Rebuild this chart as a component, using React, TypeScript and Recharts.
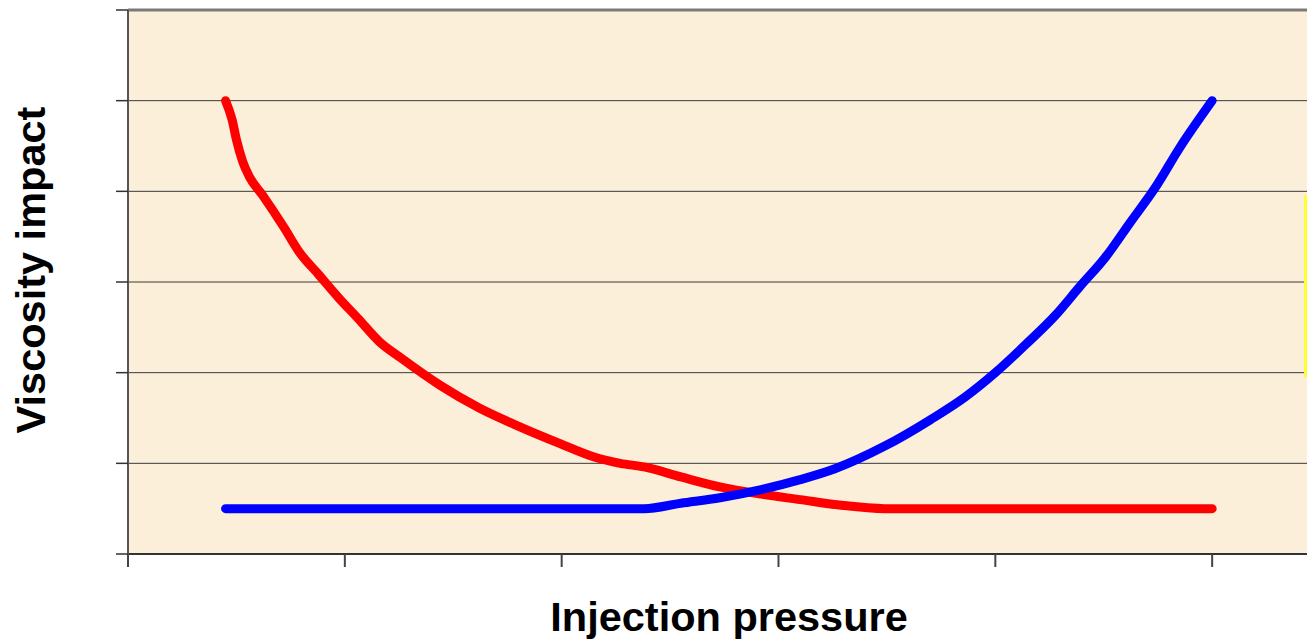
import React from "react";
import {
  LineChart,
  Line,
  XAxis,
  YAxis,
  CartesianGrid,
  ReferenceLine,
} from "recharts";

// x = injection pressure, y = viscosity impact (arbitrary units)
const redCurve = [
  { x: 0.45, y: 5.0 },
  { x: 0.48, y: 4.79 },
  { x: 0.5, y: 4.57 },
  { x: 0.53, y: 4.32 },
  { x: 0.56, y: 4.16 },
  { x: 0.62, y: 3.96 },
  { x: 0.72, y: 3.6 },
  { x: 0.79, y: 3.33 },
  { x: 0.88, y: 3.08 },
  { x: 0.97, y: 2.83 },
  { x: 1.06, y: 2.6 },
  { x: 1.16, y: 2.34 },
  { x: 1.26, y: 2.16 },
  { x: 1.44, y: 1.86 },
  { x: 1.62, y: 1.61 },
  { x: 1.81, y: 1.4 },
  { x: 1.99, y: 1.22 },
  { x: 2.15, y: 1.07 },
  { x: 2.27, y: 1.0 },
  { x: 2.38, y: 0.96 },
  { x: 2.55, y: 0.85 },
  { x: 2.73, y: 0.74 },
  { x: 2.92, y: 0.66 },
  { x: 3.1, y: 0.6 },
  { x: 3.28, y: 0.54 },
  { x: 3.49, y: 0.5 },
  { x: 5.0, y: 0.5 },
];

const blueCurve = [
  { x: 0.45, y: 0.5 },
  { x: 2.38, y: 0.5 },
  { x: 2.55, y: 0.56 },
  { x: 2.73, y: 0.62 },
  { x: 2.92, y: 0.71 },
  { x: 3.1, y: 0.82 },
  { x: 3.26, y: 0.94 },
  { x: 3.49, y: 1.19 },
  { x: 3.7, y: 1.48 },
  { x: 3.86, y: 1.73 },
  { x: 4.0, y: 2.0 },
  { x: 4.14, y: 2.31 },
  { x: 4.28, y: 2.64 },
  { x: 4.39, y: 2.95 },
  { x: 4.51, y: 3.28 },
  { x: 4.62, y: 3.65 },
  { x: 4.74, y: 4.05 },
  { x: 4.85, y: 4.48 },
  { x: 5.0, y: 5.0 },
];

const xTicks = [0, 1, 2, 3, 4, 5, 6];
const yTicks = [0, 1, 2, 3, 4, 5, 6];

const FONT = "'Liberation Sans', Arial, sans-serif";

const noLabel = () => <g />;

export default function App() {
  return (
    <div
      style={{
        position: "fixed",
        left: 0,
        top: 0,
        width: 1307,
        height: 639,
        overflow: "hidden",
        background: "#fff",
        fontFamily: FONT,
      }}
    >
      <LineChart
        width={1440}
        height={639}
        margin={{ top: 10, right: 11, left: 100, bottom: 0 }}
      >
        <CartesianGrid
          horizontal
          vertical={false}
          fill="#FBEFD9"
          fillOpacity={1}
          stroke="#3a3a3a"
          strokeWidth={1}
        />
        <XAxis
          type="number"
          dataKey="x"
          domain={[0, 6]}
          ticks={xTicks}
          allowDataOverflow
          tick={noLabel}
          tickSize={13}
          height={85}
          axisLine={{ stroke: "#333", strokeWidth: 2 }}
          tickLine={{ stroke: "#444", strokeWidth: 2 }}
        />
        <YAxis
          type="number"
          dataKey="y"
          domain={[0, 6]}
          ticks={yTicks}
          tick={noLabel}
          tickSize={12}
          width={28}
          axisLine={{ stroke: "#555", strokeWidth: 2 }}
          tickLine={{ stroke: "#333", strokeWidth: 1.5 }}
        />
        <ReferenceLine y={6} stroke="#7a7a7a" strokeWidth={3} />
        <Line
          data={redCurve}
          dataKey="y"
          type="monotone"
          stroke="#FF0000"
          strokeWidth={9}
          strokeLinecap="round"
          strokeLinejoin="round"
          dot={false}
          activeDot={false}
          isAnimationActive={false}
        />
        <Line
          data={blueCurve}
          dataKey="y"
          type="monotone"
          stroke="#0000FF"
          strokeWidth={9}
          strokeLinecap="round"
          strokeLinejoin="round"
          dot={false}
          activeDot={false}
          isAnimationActive={false}
        />
        <text
          x={729}
          y={631}
          textAnchor="middle"
          fontFamily={FONT}
          fontWeight="bold"
          fontSize={41.5}
          fill="#000"
        >
          Injection pressure
        </text>
        <text
          x={45}
          y={270}
          textAnchor="middle"
          fontFamily={FONT}
          fontWeight="bold"
          fontSize={41.5}
          fill="#000"
          transform="rotate(-90 45 270)"
        >
          Viscosity impact
        </text>
      </LineChart>
      <div
        style={{
          position: "absolute",
          left: 1304,
          top: 195,
          width: 3,
          height: 182,
          background: "#FFFF33",
        }}
      />
    </div>
  );
}
